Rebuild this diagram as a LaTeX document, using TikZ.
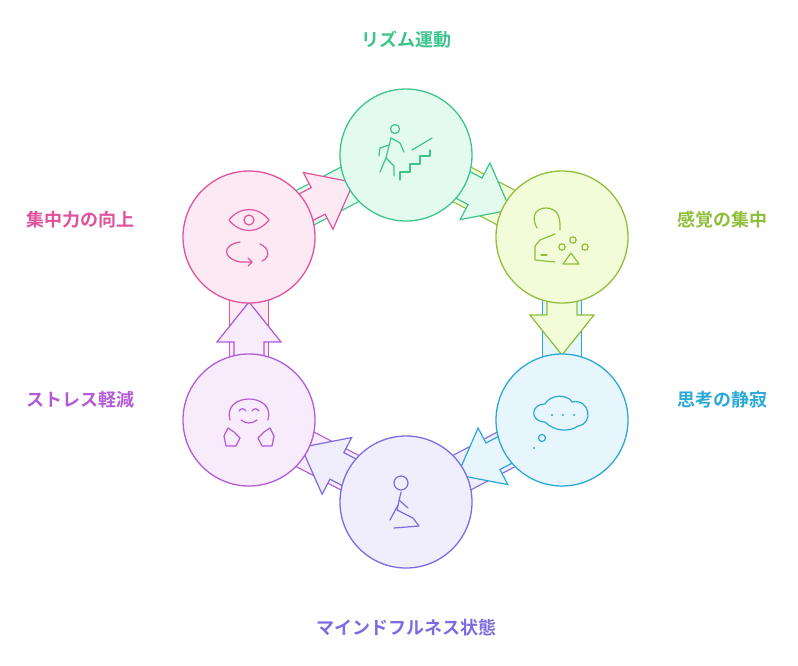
\documentclass[tikz,border=0pt]{standalone}
\usepackage{fontspec}
\newfontfamily\cjk{Noto Sans CJK JP}[BoldFont={* Bold}]
\usetikzlibrary{calc}
\definecolor{grn}{HTML}{3CC48A}\definecolor{grnfill}{HTML}{E3FBEF}
\definecolor{ylw}{HTML}{8FBF3A}\definecolor{ylwfill}{HTML}{F3FCD9}
\definecolor{blu}{HTML}{2BA8D8}\definecolor{blufill}{HTML}{E6F6FC}
\definecolor{prp}{HTML}{7D6BE0}\definecolor{prpfill}{HTML}{F0EEFD}
\definecolor{vio}{HTML}{B35AD6}\definecolor{viofill}{HTML}{F8ECFC}
\definecolor{pnk}{HTML}{E0529B}\definecolor{pnkfill}{HTML}{FDE9F3}
\tikzset{
  stage/.style={circle, draw=#1, fill=#1fill, line width=1.3pt, minimum size=132pt, inner sep=0pt},
  lbl/.style={font=\cjk\bfseries\fontsize{18}{20}\selectfont, text=#1},
  icon/.style={draw=#1, line width=1.2pt, line cap=round, line join=round}
}
\begin{document}
\begin{tikzpicture}[x=1pt, y=-1pt]
\useasboundingbox (0,0) rectangle (798,665);
\coordinate (rzc) at (406,155);
\coordinate (kkc) at (562,237);
\coordinate (shc) at (562,420);
\coordinate (mfc) at (406,502);
\coordinate (skc) at (249,420);
\coordinate (scc) at (249,237);
% bands (colour of the circle they lead to)
\foreach \a/\b/\cb in {rzc/kkc/ylw, kkc/shc/blu, shc/mfc/prp, mfc/skc/vio, skc/scc/pnk, scc/rzc/grn} {
  \draw[line width=40pt, \cb] (\a) -- (\b);
  \draw[line width=37.5pt, \cb fill] (\a) -- (\b);
}
% arrow heads (colour of the circle they leave)
\foreach \a/\b/\ca in {rzc/kkc/grn, kkc/shc/ylw, shc/mfc/blu, mfc/skc/prp, skc/scc/vio, scc/rzc/pnk} {
  \coordinate (p0) at ($(\a)!50pt!(\b)$);
  \coordinate (p1) at ($(\a)!78pt!(\b)$);
  \coordinate (tip) at ($(\a)!118pt!(\b)$);
  \draw[\ca, fill=\ca fill, line width=1.2pt, line join=miter]
    ($(p0)!15pt!90:(\b)$) -- ($(p1)!15pt!90:(\b)$) -- ($(p1)!32pt!90:(\b)$) -- (tip)
    -- ($(p1)!32pt!-90:(\b)$) -- ($(p1)!15pt!-90:(\b)$) -- ($(p0)!15pt!-90:(\b)$) -- cycle;
}
% circles
\node[stage=grn] (rz) at (rzc) {};
\node[stage=ylw] (kk) at (kkc) {};
\node[stage=blu] (sh) at (shc) {};
\node[stage=prp] (mf) at (mfc) {};
\node[stage=vio] (sk) at (skc) {};
\node[stage=pnk] (sc) at (scc) {};
% labels
\node[lbl=grn] (rzl) at (406,40) {リズム運動};
\node[lbl=ylw] (kkl) at (722,220) {感覚の集中};
\node[lbl=blu] (shl) at (722,400) {思考の静寂};
\node[lbl=prp] (mfl) at (406,628) {マインドフルネス状態};
\node[lbl=vio] (skl) at (80,400) {ストレス軽減};
\node[lbl=pnk] (scl) at (80,220) {集中力の向上};
% icons
\begin{scope}[icon=grn]
  \draw (395,129) circle (4.5);
  \draw (391,138) -- (386,158) -- (394,166) -- (394,176);
  \draw (391,138) -- (400,143) -- (404,152);
  \draw (386,158) -- (380,172);
  \draw (389,145) -- (380,148) -- (379,156);
  \draw (400,180) -- (400,172) -- (410,172) -- (410,164) -- (420,164) -- (420,156) -- (430,156) -- (430,150);
  \draw (412,150) -- (432,138);
\end{scope}
\begin{scope}[icon=ylw]
  \draw (537,228) .. controls (530,215) and (537,208) .. (546,208) .. controls (556,208) and (560,215) .. (560,225) -- (560,230);
  \draw (555,234) -- (540,240) -- (535,246) -- (535,260) -- (555,262);
  \draw (541,255) -- (547,255);
  \draw (573,240) circle (3.2);
  \draw (562,247) circle (3.2); \draw (585,247) circle (3.2);
  \draw (563,264) -- (571,253) -- (579,264) -- cycle;
\end{scope}
\begin{scope}[icon=blu]
  \draw (545,422) .. controls (530,422) and (530,404) .. (545,404) .. controls (550,394) and (568,394) .. (572,402)
    .. controls (590,398) and (594,424) .. (578,426) .. controls (570,432) and (555,432) .. (545,422);
  \foreach \x in {552,563,574} \fill[blu] (\x,415) circle (1.2);
  \draw (542,438) circle (3.5);
  \fill[blu] (534,448) circle (1.2);
\end{scope}
\begin{scope}[icon=prp]
  \draw (401,483) circle (7);
  \draw (401,492) -- (397,510) -- (413,518) -- (419,526) -- (394,528);
  \draw (399,500) -- (408,508);
  \draw (398,505) -- (390,520);
\end{scope}
\begin{scope}[icon=vio]
  \draw (230,420) .. controls (222,392) and (276,392) .. (268,420);
  \draw (239,411) .. controls (241,408) and (244,408) .. (246,411);
  \draw (252,411) .. controls (254,408) and (257,408) .. (259,411);
  \draw (241,420) .. controls (246,424) and (252,424) .. (257,420);
  \draw (224,436) -- (228,428) -- (234,432) -- (240,438) -- (236,446) -- (226,446) -- cycle;
  \draw (274,436) -- (270,428) -- (264,432) -- (258,438) -- (262,446) -- (272,446) -- cycle;
\end{scope}
\begin{scope}[icon=pnk]
  \draw (229,220) .. controls (240,206) and (258,206) .. (269,220) .. controls (258,234) and (240,234) .. (229,220);
  \draw (249,220) circle (5);
  \draw (240,242) .. controls (222,245) and (222,258) .. (240,262) -- (252,262);
  \draw (248,258) -- (252,262) -- (248,266);
  \draw (260,244) .. controls (270,248) and (270,258) .. (262,261);
\end{scope}
\end{tikzpicture}
\end{document}
